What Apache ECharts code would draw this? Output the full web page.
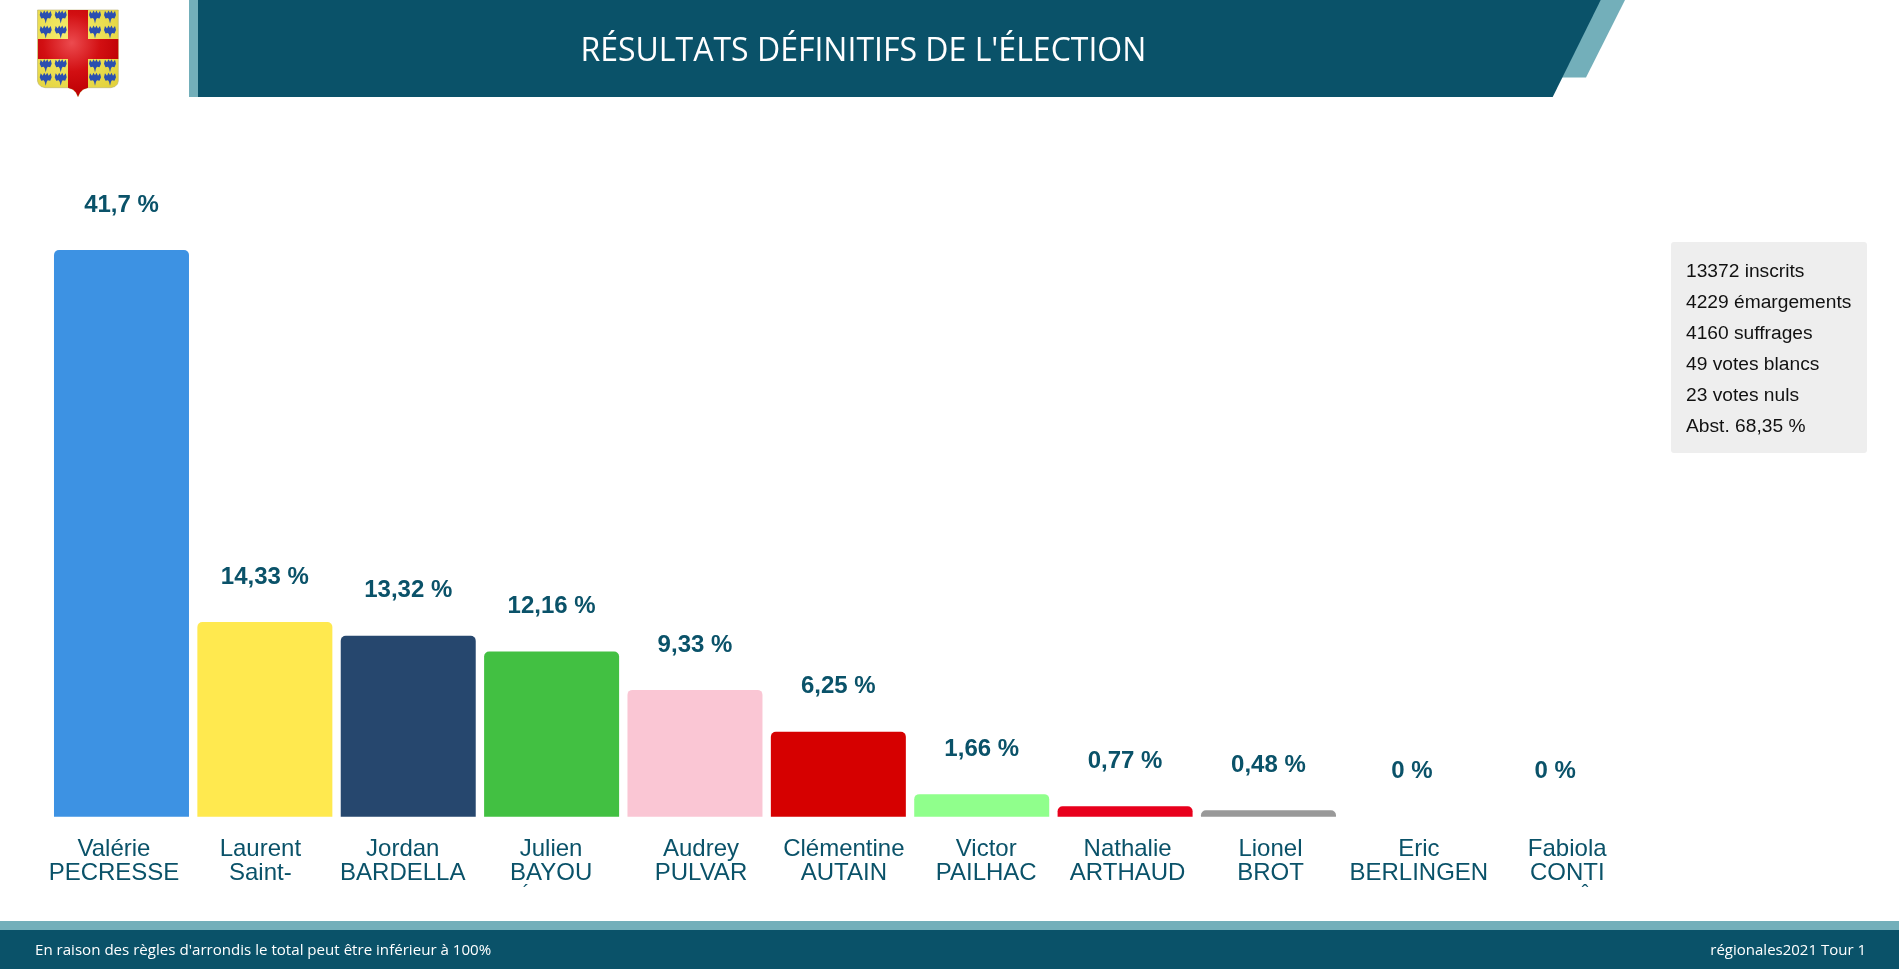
<!DOCTYPE html>
<html><head><meta charset="utf-8">
<style>html,body{margin:0;padding:0;background:#fff;overflow:hidden}#c{width:1899px;height:969px}</style>
<script src="https://cdn.jsdelivr.net/npm/echarts@6/dist/echarts.min.js"></script>
</head><body><div id="c"></div>
<script>
const candidates = ["Valérie\nPECRESSE","Laurent\nSaint-","Jordan\nBARDELLA","Julien\nBAYOU","Audrey\nPULVAR","Clémentine\nAUTAIN","Victor\nPAILHAC","Nathalie\nARTHAUD","Lionel\nBROT","Eric\nBERLINGEN","Fabiola\nCONTI"];
const scores = [41.7,14.33,13.32,12.16,9.33,6.25,1.66,0.77,0.48,0,0];
const barColors = ["#3D92E3","#FFE94F","#26476E","#42C042","#FAC6D4","#D60000","#90FF8C","#E8001C","#999999","#999999","#999999"];
const labelShift = [-7.5,-4.5,-5.5,-0.5,6,5.5,4.5,2.5,2,7,12];
const stats = ["13372 inscrits","4229 émargements","4160 suffrages","49 votes blancs","23 votes nuls","Abst. 68,35 %"];
const titleText = "RÉSULTATS DÉFINITIFS DE L'ÉLECTION";
const noteLeft = "En raison des règles d'arrondis le total peut être inférieur à 100%";
const noteRight = "régionales2021 Tour 1";

const TEAL = "#0A5269", LIGHT = "#73AFBA";
const UI_FONT = "'Open Sans'";
const g = [];
g.push({type:'rect',silent:true,shape:{x:189,y:0,width:9,height:97},style:{fill:LIGHT}});
g.push({type:'polygon',silent:true,shape:{points:[[1590,0],[1625,0],[1586,77.5],[1550,77.5]]},style:{fill:LIGHT}});
g.push({type:'polygon',silent:true,shape:{points:[[198,0],[1600.7,0],[1552.7,97],[198,97]]},style:{fill:TEAL}});
g.push({type:'text',silent:true,x:863.4,y:51.5,style:{text:titleText,fill:'#fff',font:"32px "+UI_FONT,align:'center',verticalAlign:'middle'}});
g.push({type:'rect',silent:true,shape:{x:0,y:921,width:1899,height:9},style:{fill:LIGHT}});
g.push({type:'rect',silent:true,shape:{x:0,y:930,width:1899,height:39},style:{fill:TEAL}});
g.push({type:'text',silent:true,x:35,y:951,style:{text:noteLeft,fill:'#fff',font:"15.1px "+UI_FONT,verticalAlign:'middle'}});
g.push({type:'text',silent:true,x:1866,y:951,style:{text:noteRight,fill:'#fff',font:"15px "+UI_FONT,align:'right',verticalAlign:'middle'}});
g.push({type:'rect',silent:true,shape:{x:1671,y:242,width:196,height:211,r:3},style:{fill:'#EEEEEE'}});
stats.forEach((s,i)=>g.push({type:'text',silent:true,x:1686,y:271.5+i*31,style:{text:s,fill:'#111',font:"19.2px 'Liberation Sans'",verticalAlign:'middle'}}));
g.push({type:'text',silent:true,x:526,y:893,style:{text:'´',fill:TEAL,font:"20px 'Liberation Sans'",align:'center',verticalAlign:'middle'}});
g.push({type:'text',silent:true,x:1585,y:893,style:{text:'ˆ',fill:TEAL,font:"20px 'Liberation Sans'",align:'center',verticalAlign:'middle'}});
// coat of arms
g.push({type:'polygon',silent:true,shape:{points:[[37.5,10],[118.3,10],[118.3,81],[117.5,84],[115,86.5],[111,87.7],[88,87.7],[83,89.5],[80,92.5],[78,96.7],[76,92.5],[73,89.5],[68,87.7],[45,87.7],[41,86.5],[38.5,84],[37.5,81]]},
  style:{fill:{type:'radial',x:0.4,y:0.35,r:0.75,colorStops:[{offset:0,color:'#F7EF72'},{offset:1,color:'#E3D23C'}]},stroke:'#B8B070',lineWidth:0.6}});
g.push({type:'polygon',silent:true,shape:{points:[[68,10],[88,10],[88,39],[118.3,39],[118.3,59],[88,59],[88,87.7],[83,89.5],[80,92.5],[78,96.7],[76,92.5],[73,89.5],[68,87.7],[68,59],[38,59],[38,39],[68,39]]},
  style:{fill:{type:'radial',x:0.42,y:0.38,r:0.65,colorStops:[{offset:0,color:'#EC4B4F'},{offset:0.55,color:'#D20F12'},{offset:1,color:'#BE0004'}]}}});
const bird = [[-6,-2],[-5,-6],[-3,-3.5],[-1.5,-6.5],[0,-4],[1.5,-6.5],[3,-3.5],[5,-6],[6,-2],[4.5,1.5],[2,1],[1,2.5],[0,6.5],[-1,2.5],[-2,1],[-4.5,1.5]];
[45.7,60.7,95,110].forEach(x=>[17,32,65.7,79.3].forEach(y=>g.push({type:'polygon',silent:true,x:x,y:y,shape:{points:bird},style:{fill:'#2B4FB0'}})));

const option = {
  animation:false,
  backgroundColor:'#fff',
  textStyle:{fontFamily:"'Liberation Sans'"},
  grid:{left:49.8,width:1577.1,top:250,height:566.7},
  xAxis:{type:'category',
    data:candidates.map((c,i)=>({value:c,textStyle:{padding:labelShift[i]>=0?[0,0,0,2*labelShift[i]]:[0,-2*labelShift[i],0,0]}})),
    axisLine:{show:false},axisTick:{show:false},
    axisLabel:{interval:0,color:TEAL,fontSize:24,lineHeight:24,margin:21,fontFamily:"'Liberation Sans'"}},
  yAxis:{type:'value',min:0,max:41.7,show:false,splitLine:{show:false}},
  series:[{type:'bar',barWidth:135,
    data:scores.map((v,i)=>({value:v,itemStyle:{color:barColors[i],borderRadius:[5,5,0,0]}})),
    label:{show:true,position:'top',distance:33,color:TEAL,fontSize:24,fontWeight:'bold',fontFamily:"'Liberation Sans'",
      formatter:p=>String(p.value).replace('.',',')+' %'}}],
  graphic:g
};
echarts.init(document.getElementById('c'),null,{renderer:'canvas'}).setOption(option);
</script></body></html>
